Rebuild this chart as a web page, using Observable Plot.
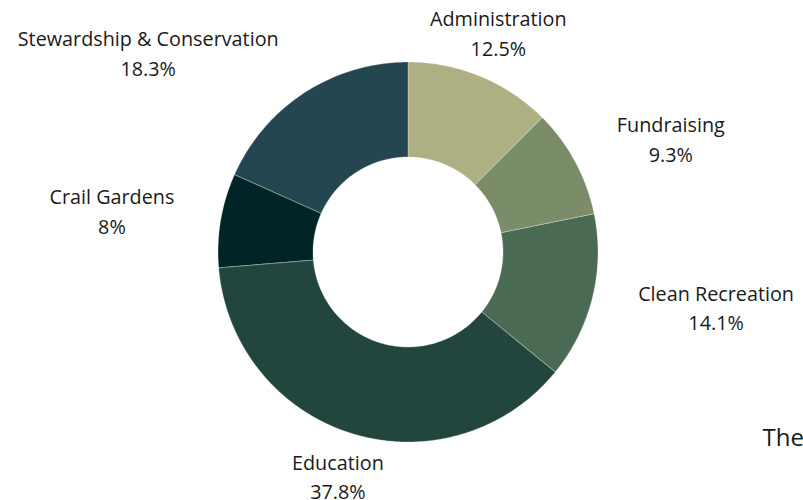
<!DOCTYPE html>
<html><head><meta charset="utf-8">
<script src="https://cdn.jsdelivr.net/npm/d3@7"></script>
<script src="https://cdn.jsdelivr.net/npm/@observablehq/plot@0.6"></script>
<style>
body{margin:0;background:#fff}
#chart{width:803px;height:500px;overflow:hidden}
</style>
</head><body><div id="chart"></div>
<script>
// ---- data ----
const categories = ["Administration", "Fundraising", "Clean Recreation", "Education", "Crail Gardens", "Stewardship & Conservation"];
const shares = [12.5, 9.3, 14.1, 37.8, 8, 18.3];
const colors = ["#afaf84", "#7a8c68", "#4b6a53", "#22463d", "#012526", "#234650"];
const noteText = ["The"];

// ---- layout ----
const W = 803, H = 500, cx = 407.5, cy = 251.5, R = 190, R0 = 95, RL = 236;
const font = "'Open Sans', Lato, sans-serif";
const labelSize = 19.8;

// measure text widths with a hidden svg
const ms = d3.select("body").append("svg").attr("width", 0).attr("height", 0).style("position", "absolute");
function textWidth(str, size) {
  const t = ms.append("text").attr("font-family", font).attr("font-size", size).text(str);
  const w = t.node().getComputedTextLength();
  t.remove();
  return w;
}

const pie = d3.pie().sort(null).value(d => d.share);
const arcs = pie(categories.map((c, i) => ({category: c, share: shares[i]})));

const pts = [];
for (const a of arcs) {
  const n = Math.max(12, Math.ceil((a.endAngle - a.startAngle) * 80));
  for (let k = 0; k <= n; k++) {
    const t = a.startAngle + (a.endAngle - a.startAngle) * k / n;
    pts.push({category: a.data.category, x: R * Math.sin(t), y: -R * Math.cos(t)});
  }
  for (let k = n; k >= 0; k--) {
    const t = a.startAngle + (a.endAngle - a.startAngle) * k / n;
    pts.push({category: a.data.category, x: R0 * Math.sin(t), y: -R0 * Math.cos(t)});
  }
}

const labels = arcs.map(a => {
  const m = (a.startAngle + a.endAngle) / 2;
  const s = Math.sin(m);
  const lines = [a.data.category, `${a.data.share}%`];
  const w = Math.max(...lines.map(l => textWidth(l, labelSize)));
  let x = RL * s;
  const y = -RL * Math.cos(m);
  if (Math.abs(s) >= 0.5) x += (s > 0 ? 1 : -1) * (w / 2 + 1);
  return {x, y, text: lines.join("\n")};
});
ms.remove();

const notes = noteText.map(t => ({x: 762 - cx, y: 438 - cy, text: t}));

const chart = Plot.plot({
  width: W, height: H,
  margin: 0,
  x: {domain: [-cx, W - cx], range: [0, W], axis: null},
  y: {domain: [-cy, H - cy], range: [0, H], axis: null},
  color: {domain: categories, range: colors},
  style: {fontFamily: font, background: "#fff"},
  marks: [
    Plot.line(pts, {x: "x", y: "y", z: "category", fill: "category", stroke: "#ffffff", strokeWidth: 0.6, strokeOpacity: 0.5, curve: "linear-closed"}),
    Plot.text(labels, {x: "x", y: "y", text: "text", textAnchor: "middle", lineAnchor: "middle", lineHeight: 1.5, dy: -2.5, fontSize: labelSize, fill: "#1a1a1a"}),
    Plot.text(notes, {x: "x", y: "y", text: "text", textAnchor: "start", fontSize: 24, fill: "#1a1a1a"})
  ]
});
document.getElementById("chart").append(chart);
</script>
</body></html>
